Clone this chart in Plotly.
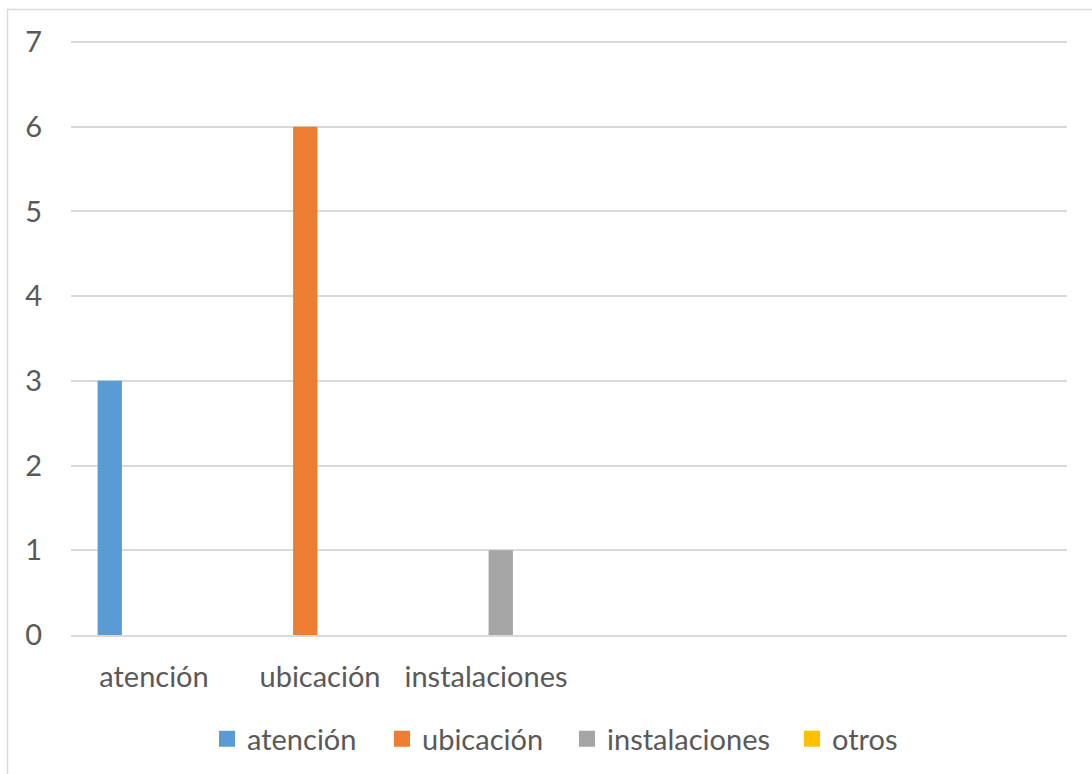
import plotly.graph_objects as go

# ---- data ----
categories = ["atención", "ubicación", "instalaciones", "", "", ""]
series_names = ["atención", "ubicación", "instalaciones", "otros"]
atencion = [3, None, None, None, None, None]
ubicacion = [None, 6, None, None, None, None]
instalaciones = [None, None, 1, None, None, None]
otros = [None, None, None, None, None, None]
y_ticks = [0, 1, 2, 3, 4, 5, 6, 7]

colors = ["#5B9BD5", "#ED7D31", "#A5A5A5", "#FFC000"]
series_values = [atencion, ubicacion, instalaciones, otros]
legend_left_px = [207, 382, 567, 792]   # legend entry anchors (layout)

W, H = 1092, 774
ML, MR, MT, MB = 71, 25, 40, 139
PW, PH = W - ML - MR, H - MT - MB
FONT = "Lato, 'Open Sans', sans-serif"
TXT = "#595959"
GRID = "#D9D9D9"
FS = 29

x_pos = list(range(len(categories)))


def px_x(px):
    return (px - ML) / PW


def px_y(py):
    return (H - MB - py) / PH


fig = go.Figure()
for name, vals, col in zip(series_names, series_values, colors):
    fig.add_trace(go.Bar(
        x=x_pos, y=vals, name=name, showlegend=False,
        marker=dict(color=col, line=dict(width=0)),
    ))

# legend entries (one legend per series, square symbols)
legend_layouts = {}
for i, (name, col) in enumerate(zip(series_names, colors)):
    key = "legend" if i == 0 else f"legend{i + 1}"
    fig.add_trace(go.Scatter(
        x=[None], y=[None], mode="markers", name=name,
        marker=dict(symbol="square", size=18, color=col, line=dict(width=0)),
        legend=key, showlegend=True, hoverinfo="skip",
    ))
    legend_layouts[key] = dict(
        orientation="h", x=px_x(legend_left_px[i]), xanchor="left",
        y=px_y(739), yanchor="middle",
        font=dict(family=FONT, size=FS, color=TXT),
        bgcolor="rgba(0,0,0,0)", borderwidth=0,
    )

fig.update_layout(
    width=W, height=H,
    margin=dict(l=ML, r=MR, t=MT, b=MB, pad=0, autoexpand=False),
    paper_bgcolor="white", plot_bgcolor="white",
    barmode="group", bargap=0.289, bargroupgap=0.176,
    font=dict(family=FONT, size=FS, color=TXT),
    showlegend=True,
    xaxis=dict(
        range=[-0.5, len(categories) - 0.5],
        tickmode="array", tickvals=x_pos, ticktext=categories,
        showgrid=False, zeroline=False,
        showline=True, linecolor=GRID, linewidth=1.5,
        ticks="", ticklabelstandoff=15,
        tickfont=dict(family=FONT, size=FS, color=TXT),
        fixedrange=True,
    ),
    yaxis=dict(
        range=[0, 7.024], tickmode="array", tickvals=y_ticks,
        showgrid=True, gridcolor=GRID, gridwidth=1.5,
        zeroline=False, showline=False, ticks="",
        ticklabelstandoff=28,
        tickfont=dict(family=FONT, size=FS, color=TXT),
        fixedrange=True,
    ),
    shapes=[dict(
        type="rect", xref="paper", yref="paper", layer="below",
        x0=px_x(7.5), x1=px_x(W + 20), y0=px_y(H + 20), y1=px_y(9.5),
        line=dict(color=GRID, width=1.5), fillcolor="rgba(0,0,0,0)",
    )],
    **legend_layouts,
)

fig.write_html("out.html")
